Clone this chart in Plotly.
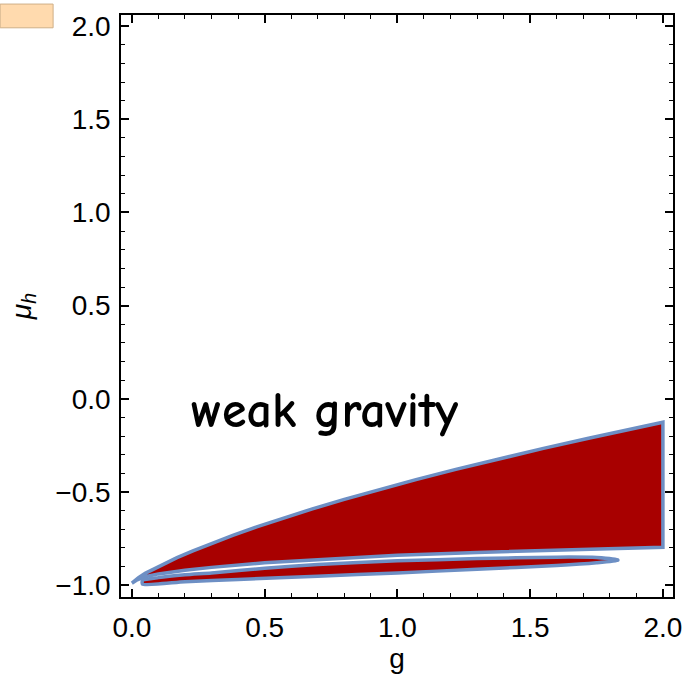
import plotly.graph_objects as go

# Upper region: top boundary (g, mu)
top_g = [0.0, 0.01, 0.025, 0.05, 0.08, 0.12, 0.17, 0.23, 0.3, 0.38, 0.47, 0.57, 0.68, 0.8,
         0.93, 1.07, 1.22, 1.38, 1.55, 1.72, 1.88, 2.0]
top_mu = [-0.99, -0.977, -0.96, -0.937, -0.915, -0.886, -0.853, -0.816, -0.776, -0.733, -0.688,
          -0.641, -0.591, -0.54, -0.487, -0.434, -0.379, -0.323, -0.266, -0.212, -0.162, -0.126]
# Upper region: bottom boundary (g, mu), right to left
bot_g = [2.0, 1.6, 1.3, 1.0, 0.7, 0.5, 0.3, 0.2, 0.1, 0.05, 0.02, 0.0]
bot_mu = [-0.797, -0.812, -0.825, -0.84, -0.862, -0.88, -0.905, -0.92, -0.94, -0.955, -0.972, -0.99]

# Lower thin loop: top boundary (left to right), bottom boundary (right to left)
loop_top_g = [0.04, 0.1, 0.2, 0.3, 0.5, 0.7, 1.0, 1.3, 1.6, 1.75, 1.83]
loop_top_mu = [-0.975, -0.96, -0.945, -0.935, -0.91, -0.89, -0.87, -0.858, -0.85, -0.852, -0.865]
loop_bot_g = [1.83, 1.75, 1.6, 1.3, 1.0, 0.7, 0.4, 0.2, 0.04, 0.04]
loop_bot_mu = [-0.867, -0.88, -0.895, -0.915, -0.935, -0.952, -0.97, -0.982, -0.995, -0.975]

x_ticks = [0.0, 0.5, 1.0, 1.5, 2.0]
x_labels = ["0.0", "0.5", "1.0", "1.5", "2.0"]
y_ticks = [-1.0, -0.5, 0.0, 0.5, 1.0, 1.5, 2.0]
y_labels = ["\u22121.0", "\u22120.5", "0.0", "0.5", "1.0", "1.5", "2.0"]

RED = "#A80000"
BLUE = "#6D8FC4"
FONT = "Liberation Sans, Arial, sans-serif"

fig = go.Figure()
fig.add_trace(go.Scatter(
    x=top_g + bot_g, y=top_mu + bot_mu, mode="lines", fill="toself",
    fillcolor=RED, line=dict(color=BLUE, width=3.5), hoverinfo="skip", showlegend=False))
fig.add_trace(go.Scatter(
    x=loop_top_g + loop_bot_g, y=loop_top_mu + loop_bot_mu, mode="lines", fill="toself",
    fillcolor=RED, line=dict(color=BLUE, width=3.5, shape="spline", smoothing=0.6),
    hoverinfo="skip", showlegend=False))

fig.add_annotation(x=0.727, y=-0.068, xref="x", yref="y", text="<b>weak gravity</b>",
                   showarrow=False,
                   font=dict(family="Comic Sans MS, Comic Neue, Lato, sans-serif", size=50, color="black"))

# small peach box in the top-left corner
fig.add_shape(type="rect", xref="paper", yref="paper",
              x0=-0.219, x1=-0.123, y0=0.978, y1=1.0188,
              fillcolor="#FFDAAE", line=dict(color="#CFAF87", width=1), layer="above")

axis_common = dict(
    showgrid=False, zeroline=False, showline=True, linecolor="black", linewidth=1.5,
    mirror="allticks", ticks="inside", ticklen=8, tickwidth=1.5, tickcolor="black",
    tickfont=dict(family=FONT, size=28, color="black"),
    minor=dict(ticks="inside", ticklen=4, tickwidth=1.2, tickcolor="black", dtick=0.1, showgrid=False),
)

fig.update_xaxes(range=[-0.041, 2.038], tickvals=x_ticks, ticktext=x_labels,
                 ticklabelstandoff=5,
                 title=dict(text="g", standoff=2, font=dict(family=FONT, size=28, color="black")),
                 **axis_common)
fig.update_yaxes(range=[-1.064, 2.06], tickvals=y_ticks, ticktext=y_labels,
                 ticklabelstandoff=3,
                 title=dict(text="<i>\u03bc<sub>h</sub></i>", standoff=16,
                            font=dict(family=FONT, size=28, color="black")),
                 **axis_common)

fig.update_layout(
    width=694, height=688,
    margin=dict(l=121, r=21, t=11, b=91),
    plot_bgcolor="white", paper_bgcolor="white",
)

fig.write_html("out.html")
